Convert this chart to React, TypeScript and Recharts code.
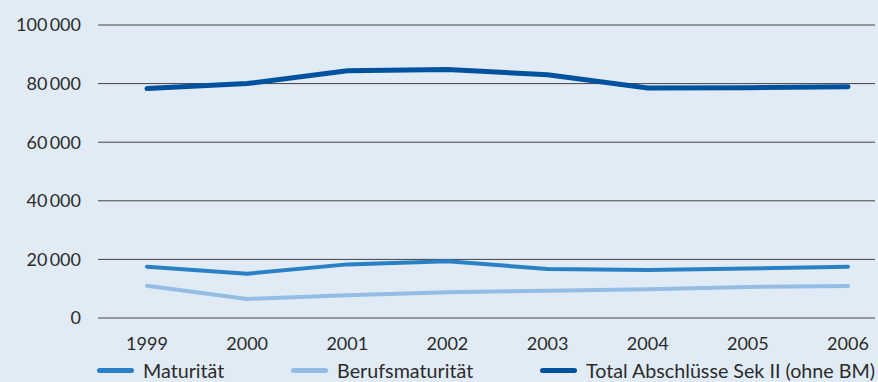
import React from "react";
import { LineChart, Line, XAxis, YAxis, CartesianGrid, Legend } from "recharts";

const years = ["1999", "2000", "2001", "2002", "2003", "2004", "2005", "2006"];
const maturitaet = [17500, 15100, 18300, 19400, 16700, 16400, 16900, 17500];
const berufsmaturitaet = [11000, 6500, 7800, 8800, 9300, 9800, 10600, 10900];
const totalSekII = [78300, 80000, 84400, 84800, 83000, 78500, 78600, 78900];
const yTicks = [0, 20000, 40000, 60000, 80000, 100000];

const seriesInfo = [
  { key: "mat", name: "Maturität", color: "#2a80c6" },
  { key: "bm", name: "Berufsmaturität", color: "#94bde6" },
  { key: "tot", name: "Total Abschlüsse Sek II (ohne BM)", color: "#00529e" },
];

const data = years.map((y, i) => ({
  year: y,
  mat: maturitaet[i],
  bm: berufsmaturitaet[i],
  tot: totalSekII[i],
}));

const FONT = "Lato, 'Noto Sans', sans-serif";

const fmt = (v: number) => {
  if (v === 0) return "0";
  const s = String(v);
  return s.slice(0, s.length - 3) + "\u2009" + s.slice(s.length - 3);
};

const LegendContent = () => (
  <div
    style={{
      display: "flex",
      justifyContent: "space-between",
      alignItems: "center",
      marginLeft: 97,
      width: 778,
      height: 24,
      fontFamily: FONT,
      fontSize: 19.7,
      color: "#2b2b2b",
    }}
  >
    {seriesInfo.map((s) => (
      <div key={s.key} style={{ display: "flex", alignItems: "center" }}>
        <div
          style={{
            width: 37,
            height: 5,
            borderRadius: 3,
            background: s.color,
            marginRight: 9,
          }}
        />
        <span style={{ whiteSpace: "nowrap" }}>{s.name}</span>
      </div>
    ))}
  </div>
);

export default function App() {
  return (
    <div
      style={{
        position: "absolute",
        left: 0,
        top: 0,
        width: 878,
        height: 382,
        background: "#e1ebf6",
      }}
    >
      <LineChart
        width={878}
        height={382}
        data={data}
        margin={{ top: 25, right: 3, left: 0, bottom: 0 }}
      >
        <CartesianGrid vertical={false} stroke="#444" strokeWidth={1} />
        <XAxis
          dataKey="year"
          axisLine={false}
          tickLine={false}
          height={40}
          tickMargin={13}
          padding={{ left: 49, right: 27 }}
          interval={0}
          tick={{ fill: "#2b2b2b", fontSize: 18, fontFamily: FONT }}
        />
        <YAxis
          domain={[0, 100000]}
          ticks={yTicks}
          axisLine={false}
          tickLine={false}
          width={98}
          tickSize={0}
          tickMargin={17}
          tickFormatter={fmt}
          tick={{ fill: "#2b2b2b", fontSize: 18, fontFamily: FONT }}
        />
        <Legend verticalAlign="bottom" height={24} content={<LegendContent />} />
        <Line
          dataKey="mat"
          name="Maturität"
          stroke="#2a80c6"
          strokeWidth={4}
          dot={false}
          strokeLinecap="round"
          isAnimationActive={false}
        />
        <Line
          dataKey="bm"
          name="Berufsmaturität"
          stroke="#94bde6"
          strokeWidth={4}
          dot={false}
          strokeLinecap="round"
          isAnimationActive={false}
        />
        <Line
          dataKey="tot"
          name="Total Abschlüsse Sek II (ohne BM)"
          stroke="#00529e"
          strokeWidth={5}
          dot={false}
          strokeLinecap="round"
          isAnimationActive={false}
        />
      </LineChart>
    </div>
  );
}
